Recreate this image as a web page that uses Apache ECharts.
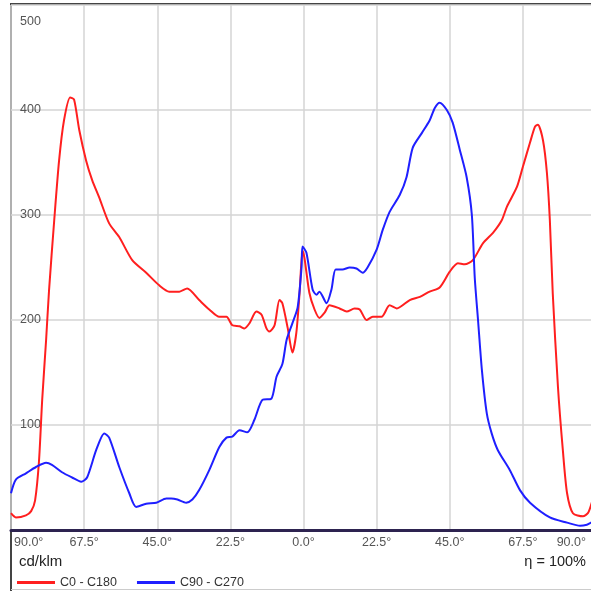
<!DOCTYPE html>
<html>
<head>
<meta charset="utf-8">
<script src="https://cdn.jsdelivr.net/npm/echarts@6/dist/echarts.min.js"></script>
<style>
  html, body { margin: 0; padding: 0; background: #fff; }
  #chart { width: 591px; height: 591px; }
</style>
</head>
<body>
<div id="chart"></div>
<script>
// C0 - C180 curve, [angle, cd/klm]
const redAngles = [-90, -88.5, -85.4, -83.8, -82.6, -81.4, -80.4, -79.2, -78.3, -76.7, -75.2, -73.7, -71.8, -70.6, -69, -66.9, -65, -62.9, -59.8, -56.7, -52.7, -48.4, -44.4, -41.3, -38.2, -35.8, -32.1, -29, -25.9, -23.7, -21.9, -19.7, -18.2, -16.6, -14.5, -12.9, -11.4, -10.5, -8.9, -7.4, -6.5, -4.9, -3.4, -2.2, -1.2, -0.3, 0.3, 1.8, 3.4, 4.9, 6.5, 8, 11.1, 13.3, 15.7, 17.3, 19.4, 21.3, 24, 26.5, 28.7, 32.7, 35.8, 38.8, 41.9, 45, 47.5, 49.6, 52.1, 55.2, 58.3, 61, 62.6, 65.7, 67.5, 69.7, 71.2, 72.1, 73.7, 74.9, 75.8, 76.7, 78.3, 79.8, 81.1, 82.9, 86, 87.5, 88.5, 90]
const redValues = [16, 12, 14, 18, 28, 65, 124, 181, 228, 295, 352, 390, 412, 410, 381, 352, 333, 317, 292, 279, 257, 245, 233, 227, 227, 230, 219, 210, 203, 203, 195, 194, 192, 197, 208, 205, 192, 189, 195, 219, 216, 193, 169, 188, 226, 266, 259, 226, 210, 202, 207, 214, 211, 208, 211, 210, 200, 203, 203, 214, 211, 219, 222, 227, 231, 246, 254, 253, 257, 273, 283, 295, 308, 327, 346, 369, 384, 386, 371, 340, 295, 225, 136, 76, 35, 16, 13, 16, 24, 40]

// C90 - C270 curve
const blueAngles = [-90, -88.5, -85.4, -82.3, -79.2, -77.4, -74.3, -71.2, -68.4, -66.6, -63.8, -61.3, -59.8, -56.7, -53.6, -51.5, -48.4, -45.3, -42.2, -40.7, -38.8, -36.1, -34.2, -32.1, -29, -25.9, -23.7, -21.9, -19.7, -17.3, -15.1, -12.6, -9.9, -8.3, -6.5, -5.2, -3.4, -1.8, -0.6, -0.3, 0.9, 2.8, 4, 4.9, 7.1, 8.6, 9.9, 12, 14.2, 16.3, 18.2, 19.7, 22.5, 24.4, 26.5, 29.6, 31.7, 33.6, 36.4, 38.8, 40.4, 41.9, 44.1, 45.9, 48.1, 50.2, 51.8, 52.7, 53.7, 54.9, 56.4, 57.9, 59.8, 63.5, 66.6, 69.7, 75.8, 81.1, 85.1, 87.2, 88.5, 90]
const blueValues = [35, 48, 54, 60, 64, 62, 55, 50, 46, 50, 76, 92, 88, 60, 35, 22, 25, 26, 30, 30, 29, 26, 29, 38, 57, 79, 88, 89, 95, 93, 105, 124, 125, 146, 158, 181, 197, 212, 250, 270, 264, 229, 224, 227, 216, 229, 248, 248, 250, 249, 245, 250, 267, 286, 303, 319, 336, 364, 378, 390, 402, 407, 400, 388, 362, 336, 300, 240, 200, 152, 111, 92, 76, 57, 38, 26, 12, 7, 4, 5, 7, 10]

const angleTicks = { min: -90, max: 90, step: 22.5 }
const valueTicks = { min: 0, max: 500, step: 100 }

const zip = (xs, ys) => xs.map((x, i) => [x, ys[i]])
const font = 'Liberation Sans, Arial, sans-serif'

const chart = echarts.init(document.getElementById('chart'))

chart.setOption({
  animation: false,
  backgroundColor: '#fff',
  textStyle: { fontFamily: font },
  grid: { left: 11, top: 5, width: 585, height: 525, outerBoundsMode: 'none' },
  xAxis: {
    type: 'value',
    min: angleTicks.min,
    max: angleTicks.max,
    interval: angleTicks.step,
    axisLine: { show: true, onZero: false, lineStyle: { color: '#2d2350', width: 3 } },
    axisTick: { show: false },
    splitLine: { show: true, lineStyle: { color: '#d4d4d4', width: 1.5 } },
    axisLabel: {
      color: '#555',
      fontSize: 12.5,
      margin: 6,
      alignMinLabel: 'left',
      alignMaxLabel: 'right',
      formatter: function (v) {
        const s = Math.abs(v).toFixed(1) + '°'
        if (v === angleTicks.max) return '{r|' + s + '}'
        if (v === angleTicks.min) return '{l|' + s + '}'
        return s
      },
      rich: {
        r: { color: '#555', fontSize: 12.5, padding: [0, 10, 0, 0] },
        l: { color: '#555', fontSize: 12.5, padding: [0, 0, 0, 3] },
      },
    },
  },
  yAxis: {
    type: 'value',
    min: valueTicks.min,
    max: valueTicks.max,
    interval: valueTicks.step,
    axisLine: { show: false },
    axisTick: { show: false },
    splitLine: { show: true, lineStyle: { color: '#d4d4d4', width: 1.5 } },
    axisLabel: {
      inside: true,
      margin: 9,
      color: '#555',
      fontSize: 12.5,
      showMinLabel: false,
      formatter: function (v) {
        return v === valueTicks.max ? '{t|' + v + '}' : String(v)
      },
      rich: { t: { color: '#555', fontSize: 12.5, padding: [34, 0, 0, 0] } },
    },
  },
  legend: {
    left: 12,
    top: 571,
    itemWidth: 38,
    itemHeight: 3,
    itemGap: 20,
    icon: 'rect',
    textStyle: { color: '#333', fontSize: 12.5 },
    data: ['C0 - C180', 'C90 - C270'],
  },
  graphic: [
    { type: 'line', shape: { x1: 11, y1: 4, x2: 591, y2: 4 }, style: { stroke: '#444', lineWidth: 2 } },
    { type: 'line', shape: { x1: 11, y1: 3, x2: 11, y2: 591 }, style: { stroke: '#444', lineWidth: 2 } },
    { type: 'line', shape: { x1: 11, y1: 589.5, x2: 591, y2: 589.5 }, style: { stroke: '#ccc', lineWidth: 1 } },
    { type: 'text', left: 19, top: 554, style: { text: 'cd/klm', fontSize: 15, fill: '#222', fontFamily: font } },
    { type: 'text', right: 5, top: 554, style: { text: 'η = 100%', fontSize: 14.5, fill: '#222', fontFamily: font } },
  ],
  series: [
    {
      name: 'C0 - C180',
      type: 'line',
      data: zip(redAngles, redValues),
      showSymbol: false,
      smooth: 0.25,
      color: '#ff1f1f',
      lineStyle: { color: '#ff1f1f', width: 2 },
    },
    {
      name: 'C90 - C270',
      type: 'line',
      data: zip(blueAngles, blueValues),
      showSymbol: false,
      smooth: 0.25,
      color: '#1f1fff',
      lineStyle: { color: '#1f1fff', width: 2 },
    },
  ],
})
</script>
</body>
</html>
